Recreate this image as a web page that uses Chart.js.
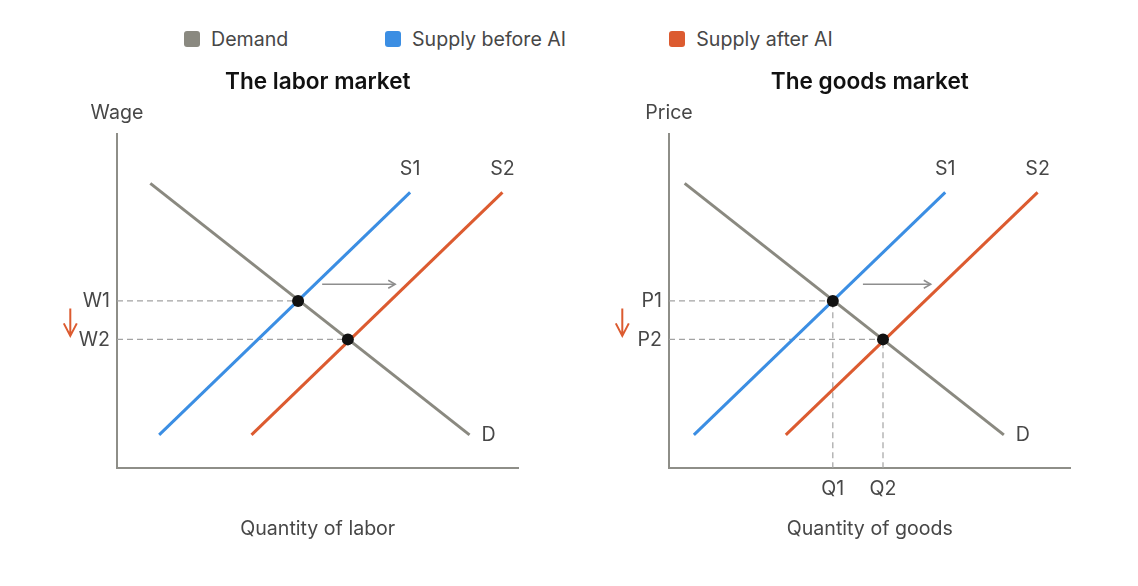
<!DOCTYPE html>
<html>
<head>
<meta charset="utf-8">
<script src="https://cdn.jsdelivr.net/npm/chart.js@4.4.1/dist/chart.umd.min.js"></script>
<style>
html,body{margin:0;padding:0;background:#fff;}
#wrap{position:relative;width:1138px;height:586px;overflow:hidden;font-family:Inter,"Noto Sans",sans-serif;}
.pane{position:absolute;top:0;width:556px;height:586px;}
.leg{position:absolute;top:27px;height:23px;display:flex;align-items:center;font-size:19.6px;color:#474747;white-space:nowrap;}
.leg i{display:inline-block;width:16px;height:16px;border-radius:3px;margin-right:11px;}
</style>
</head>
<body>
<div id="wrap">
  <div id="legend"></div>
  <div class="pane" style="left:0"><canvas id="labor" width="556" height="586"></canvas></div>
  <div class="pane" style="left:552px"><canvas id="goods" width="556" height="586"></canvas></div>
</div>
<script>
// ---------- data (0-100 axis units) ----------
const seriesNames  = ['Demand', 'Supply before AI', 'Supply after AI'];
const seriesColors = ['#8a8980', '#3b8ee3', '#dc5b30'];
const curveLabels  = ['D', 'S1', 'S2'];

const laborTitle = 'The labor market';
const laborAxisTitles = ['Quantity of labor', 'Wage'];
const laborDemand       = [[8.3, 85.3], [87.8, 10.0]];
const laborSupplyBefore = [[10.5, 10.0], [73.0, 82.6]];
const laborSupplyAfter  = [[33.5, 10.0], [96.0, 82.6]];
const laborEquilibria   = [[45.1, 50.1], [57.5, 38.6]];
const laborLevelLabels  = ['W1', 'W2'];
const laborQtyLabels    = [];
const laborShiftArrow   = [[51.1, 55.1], [69.3, 55.1]];

const goodsTitle = 'The goods market';
const goodsAxisTitles = ['Quantity of goods', 'Price'];
const goodsDemand       = [[3.9, 85.3], [83.4, 10.0]];
const goodsSupplyBefore = [[6.2, 10.0], [68.8, 82.6]];
const goodsSupplyAfter  = [[29.1, 10.0], [91.8, 82.6]];
const goodsEquilibria   = [[40.8, 50.1], [53.3, 38.6]];
const goodsLevelLabels  = ['P1', 'P2'];
const goodsQtyLabels    = ['Q1', 'Q2'];
const goodsShiftArrow   = [[48.3, 55.1], [65.2, 55.1]];

const axisRange = [0, 100];

// ---------- legend ----------
const legendLeft = [184, 385, 669.3];
const legendEl = document.getElementById('legend');
seriesNames.forEach((n, i) => {
  const d = document.createElement('div');
  d.className = 'leg';
  d.style.left = legendLeft[i] + 'px';
  d.innerHTML = '<i style="background:' + seriesColors[i] + '"></i><span>' + n + '</span>';
  legendEl.appendChild(d);
});

// ---------- helpers ----------
const FONT = 'Inter, "Noto Sans", sans-serif';
const pts = arr => arr.map(p => ({x: p[0], y: p[1]}));

function buildChart(id, m) {
  const datasets = [];
  datasets.push({ label: 'eq', data: pts(m.eq), showLine: false, pointRadius: 6, pointHoverRadius: 6,
    pointBackgroundColor: '#111', pointBorderWidth: 0, order: 0 });
  [m.demand, m.before, m.after].forEach((c, i) => {
    datasets.push({ label: seriesNames[i], data: pts(c), borderColor: seriesColors[i], borderWidth: 3,
      pointRadius: 0, fill: false, order: 1 });
  });
  m.eq.forEach(e => {
    datasets.push({ label: 'guide', data: [{x: axisRange[0], y: e[1]}, {x: e[0], y: e[1]}],
      borderColor: '#a3a3a3', borderWidth: 1.2, borderDash: [6, 4], pointRadius: 0, order: 2 });
    if (m.qty.length) {
      datasets.push({ label: 'guide', data: [{x: e[0], y: axisRange[0]}, {x: e[0], y: e[1]}],
        borderColor: '#a3a3a3', borderWidth: 1.2, borderDash: [6, 4], pointRadius: 0, order: 2 });
    }
  });
  datasets.push({ label: 'shift', data: pts(m.shift), borderColor: '#8e8e8e', borderWidth: 1.5,
    pointRadius: 0, order: 2 });

  const overlay = {
    id: 'overlay',
    afterDatasetsDraw(chart) {
      const {ctx, chartArea: a, scales: {x, y}} = chart;
      const cx = (a.left + a.right) / 2;
      ctx.save();
      ctx.textBaseline = 'middle';
      // title
      ctx.font = '600 22.6px ' + FONT;
      ctx.fillStyle = '#111';
      ctx.textAlign = 'center';
      ctx.fillText(m.title, cx, a.top - 52.3);
      // axis titles
      ctx.font = '19.6px ' + FONT;
      ctx.fillStyle = '#474747';
      ctx.fillText(m.axisTitles[1], a.left, a.top - 21.3);
      ctx.fillText(m.axisTitles[0], cx, a.bottom + 60.7);
      // curve labels
      const dEnd = m.demand[1], s1End = m.before[1], s2End = m.after[1];
      ctx.fillText(curveLabels[1], x.getPixelForValue(s1End[0]), y.getPixelForValue(s1End[1]) - 23);
      ctx.fillText(curveLabels[2], x.getPixelForValue(s2End[0]), y.getPixelForValue(s2End[1]) - 23);
      ctx.textAlign = 'left';
      ctx.fillText(curveLabels[0], x.getPixelForValue(dEnd[0]) + 12, y.getPixelForValue(dEnd[1]));
      // level labels
      ctx.textAlign = 'right';
      m.eq.forEach((e, i) => ctx.fillText(m.levels[i], a.left - 7, y.getPixelForValue(e[1]) + 0.5));
      // quantity labels
      ctx.textAlign = 'center';
      m.qty.forEach((q, i) => ctx.fillText(q, x.getPixelForValue(m.eq[i][0]), a.bottom + 20.5));
      // shift arrow head
      const ex = x.getPixelForValue(m.shift[1][0]), ey = y.getPixelForValue(m.shift[1][1]);
      ctx.strokeStyle = '#8e8e8e';
      ctx.lineWidth = 1.5;
      ctx.beginPath();
      ctx.moveTo(ex - 7, ey - 4); ctx.lineTo(ex, ey); ctx.lineTo(ex - 7, ey + 4);
      ctx.stroke();
      // down arrow (level falls)
      const ax = a.left - 46.7;
      const y1 = y.getPixelForValue(m.eq[0][1]) + 7.5;
      const y2 = y.getPixelForValue(m.eq[1][1]) - 3.5;
      ctx.strokeStyle = seriesColors[2];
      ctx.lineWidth = 2;
      ctx.beginPath();
      ctx.moveTo(ax, y1); ctx.lineTo(ax, y2);
      ctx.moveTo(ax - 6.5, y2 - 12.5); ctx.lineTo(ax, y2); ctx.lineTo(ax + 6.5, y2 - 12.5);
      ctx.stroke();
      ctx.restore();
    }
  };

  const axisOpts = (pos) => ({
    type: 'linear', position: pos, min: axisRange[0], max: axisRange[1],
    grid: { display: false, drawTicks: false },
    ticks: { display: false },
    border: { display: true, color: '#8e8e88', width: 2 },
    afterFit: s => { if (pos === 'left') s.width = 0; else s.height = 0; }
  });

  return new Chart(document.getElementById(id), {
    type: 'line',
    data: { datasets },
    options: {
      responsive: false,
      animation: false,
      events: [],
      layout: { padding: { top: 134.3, left: 117, right: 37.5, bottom: 117.7 } },
      plugins: { legend: { display: false }, tooltip: { enabled: false }, title: { display: false } },
      scales: { x: axisOpts('bottom'), y: axisOpts('left') }
    },
    plugins: [overlay]
  });
}

buildChart('labor', { title: laborTitle, axisTitles: laborAxisTitles, demand: laborDemand,
  before: laborSupplyBefore, after: laborSupplyAfter, eq: laborEquilibria, levels: laborLevelLabels,
  qty: laborQtyLabels, shift: laborShiftArrow });
buildChart('goods', { title: goodsTitle, axisTitles: goodsAxisTitles, demand: goodsDemand,
  before: goodsSupplyBefore, after: goodsSupplyAfter, eq: goodsEquilibria, levels: goodsLevelLabels,
  qty: goodsQtyLabels, shift: goodsShiftArrow });
</script>
</body>
</html>
